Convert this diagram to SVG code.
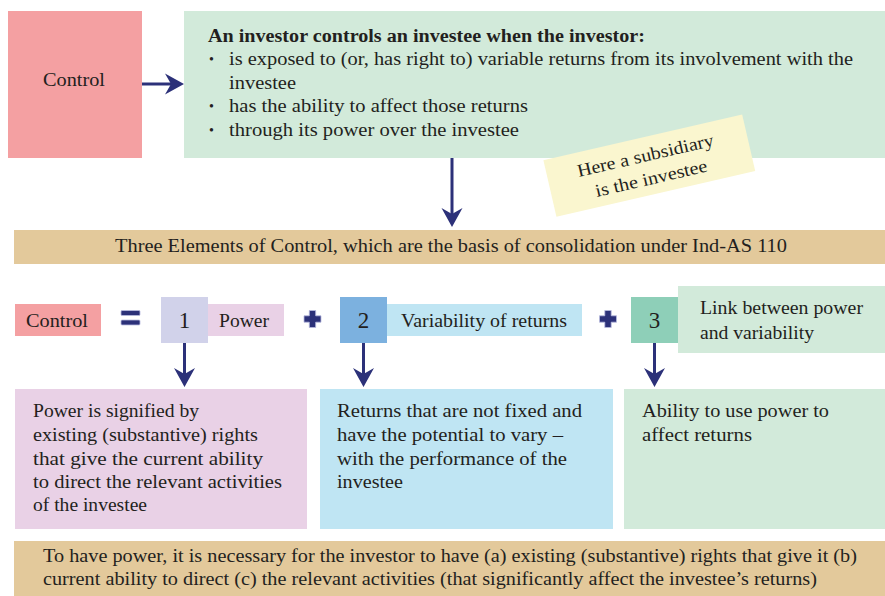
<svg xmlns="http://www.w3.org/2000/svg" width="885" height="596" viewBox="0 0 885 596">
<defs>
<style>
text { font-family: "Liberation Serif", "Times New Roman", serif; font-size: 18px; fill: #231f20; }
.b { font-weight: bold; }
.bul { font-size: 14px; }
.num { font-size: 23px; }
.conn { stroke: #2c3179; stroke-width: 3; fill: none; marker-end: url(#ah); }
.sym { fill: #2c3179; stroke: #b9bbe0; stroke-width: 0.8; }
.pink { fill: #f4a0a2; }
.green { fill: #d2eada; }
.tan { fill: #e3c99b; }
.lilac { fill: #e9d1e6; }
.lblue { fill: #bfe5f3; }
</style>
<marker id="ah" markerUnits="userSpaceOnUse" markerWidth="20" markerHeight="22" refX="8" refY="11" orient="auto">
<path d="M19,11 L0,0.5 L6,11 L0,21.5 Z" fill="#2c3179"/>
</marker>
</defs>
<rect width="885" height="596" fill="#ffffff"/>

<g id="control-top">
<rect class="pink" x="8" y="11" width="134" height="147"/>
<text x="43" y="86" textLength="62" lengthAdjust="spacingAndGlyphs">Control</text>
</g>

<g id="definition">
<rect class="green" x="184" y="11" width="701" height="147"/>
<text class="b" x="208" y="41.5" textLength="437" lengthAdjust="spacingAndGlyphs">An investor controls an investee when the investor:</text>
<text class="bul" x="209" y="64">•</text>
<text x="229" y="65" textLength="624" lengthAdjust="spacingAndGlyphs">is exposed to (or, has right to) variable returns from its involvement with the</text>
<text x="229" y="88.5" textLength="67" lengthAdjust="spacingAndGlyphs">investee</text>
<text class="bul" x="209" y="111">•</text>
<text x="229" y="112" textLength="299" lengthAdjust="spacingAndGlyphs">has the ability to affect those returns</text>
<text class="bul" x="209" y="134.5">•</text>
<text x="229" y="135.5" textLength="290" lengthAdjust="spacingAndGlyphs">through its power over the investee</text>
</g>

<g id="note" transform="translate(649.3,165.6) rotate(-13)">
<rect x="-102" y="-29" width="204" height="58" fill="#faf6cf"/>
<text x="-71.4" y="-4.8" textLength="139.7" lengthAdjust="spacingAndGlyphs">Here a subsidiary</text>
<text x="-58.2" y="18.8" textLength="114.3" lengthAdjust="spacingAndGlyphs">is the investee</text>
</g>

<g id="elements-band">
<rect class="tan" x="14" y="230" width="871" height="34"/>
<text x="115" y="252" textLength="672" lengthAdjust="spacingAndGlyphs">Three Elements of Control, which are the basis of consolidation under Ind-AS 110</text>
</g>

<g id="control-eq">
<rect class="pink" x="15" y="304" width="86" height="32"/>
<text x="26" y="327" textLength="62" lengthAdjust="spacingAndGlyphs">Control</text>
</g>

<g id="equals">
<rect class="sym" x="121" y="310.5" width="19" height="5" rx="1"/>
<rect class="sym" x="121" y="320" width="19" height="5" rx="1"/>
</g>

<g id="element-1">
<rect x="161" y="297" width="47" height="46" fill="#d1d2ea"/>
<text class="num" x="184.5" y="328" text-anchor="middle">1</text>
<rect class="lilac" x="208" y="304" width="76" height="32"/>
<text x="219" y="327" textLength="50" lengthAdjust="spacingAndGlyphs">Power</text>
</g>

<g id="plus-1">
<path class="sym" d="M309.3,310.5 h6.4 v5.3 h5.3 v6.4 h-5.3 v5.3 h-6.4 v-5.3 h-5.3 v-6.4 h5.3 z"/>
</g>

<g id="element-2">
<rect x="340" y="297" width="47" height="46" fill="#7cb1df"/>
<text class="num" x="363.5" y="328" text-anchor="middle">2</text>
<rect class="lblue" x="387" y="304" width="195" height="32"/>
<text x="401" y="327" textLength="166" lengthAdjust="spacingAndGlyphs">Variability of returns</text>
</g>

<g id="plus-2">
<path class="sym" d="M604.8,310.5 h6.4 v5.3 h5.3 v6.4 h-5.3 v5.3 h-6.4 v-5.3 h-5.3 v-6.4 h5.3 z"/>
</g>

<g id="element-3">
<rect x="631" y="297" width="47" height="46" fill="#8ecfb8"/>
<text class="num" x="654.5" y="328" text-anchor="middle">3</text>
<rect class="green" x="678" y="286" width="207" height="67"/>
<text x="700" y="314" textLength="163" lengthAdjust="spacingAndGlyphs">Link between power</text>
<text x="700" y="339" textLength="114" lengthAdjust="spacingAndGlyphs">and variability</text>
</g>

<g id="power-desc">
<rect class="lilac" x="15" y="389" width="292" height="140"/>
<text x="33" y="417" textLength="166" lengthAdjust="spacingAndGlyphs">Power is signified by</text>
<text x="33" y="441" textLength="225" lengthAdjust="spacingAndGlyphs">existing (substantive) rights</text>
<text x="33" y="464.5" textLength="230" lengthAdjust="spacingAndGlyphs">that give the current ability</text>
<text x="33" y="488" textLength="249" lengthAdjust="spacingAndGlyphs">to direct the relevant activities</text>
<text x="33" y="511" textLength="114" lengthAdjust="spacingAndGlyphs">of the investee</text>
</g>

<g id="returns-desc">
<rect class="lblue" x="320" y="389" width="293" height="140"/>
<text x="337" y="417" textLength="245" lengthAdjust="spacingAndGlyphs">Returns that are not fixed and</text>
<text x="337" y="441" textLength="226" lengthAdjust="spacingAndGlyphs">have the potential to vary –</text>
<text x="337" y="464.5" textLength="230" lengthAdjust="spacingAndGlyphs">with the performance of the</text>
<text x="337" y="488" textLength="66" lengthAdjust="spacingAndGlyphs">investee</text>
</g>

<g id="link-desc">
<rect class="green" x="624" y="389" width="261" height="140"/>
<text x="642" y="417" textLength="187" lengthAdjust="spacingAndGlyphs">Ability to use power to</text>
<text x="642" y="441" textLength="110" lengthAdjust="spacingAndGlyphs">affect returns</text>
</g>

<g id="power-note">
<rect class="tan" x="14" y="541" width="871" height="55"/>
<text x="43" y="562" textLength="814" lengthAdjust="spacingAndGlyphs">To have power, it is necessary for the investor to have (a) existing (substantive) rights that give it (b)</text>
<text x="43" y="585" textLength="774" lengthAdjust="spacingAndGlyphs">current ability to direct (c) the relevant activities (that significantly affect the investee’s returns)</text>
</g>

<g id="connectors">
<line class="conn" x1="142" y1="84" x2="173" y2="84"/>
<line class="conn" x1="452" y1="158" x2="452" y2="216"/>
<line class="conn" x1="184.5" y1="343" x2="184.5" y2="376"/>
<line class="conn" x1="363.5" y1="343" x2="363.5" y2="376"/>
<line class="conn" x1="654.5" y1="343" x2="654.5" y2="376"/>
</g>
</svg>
